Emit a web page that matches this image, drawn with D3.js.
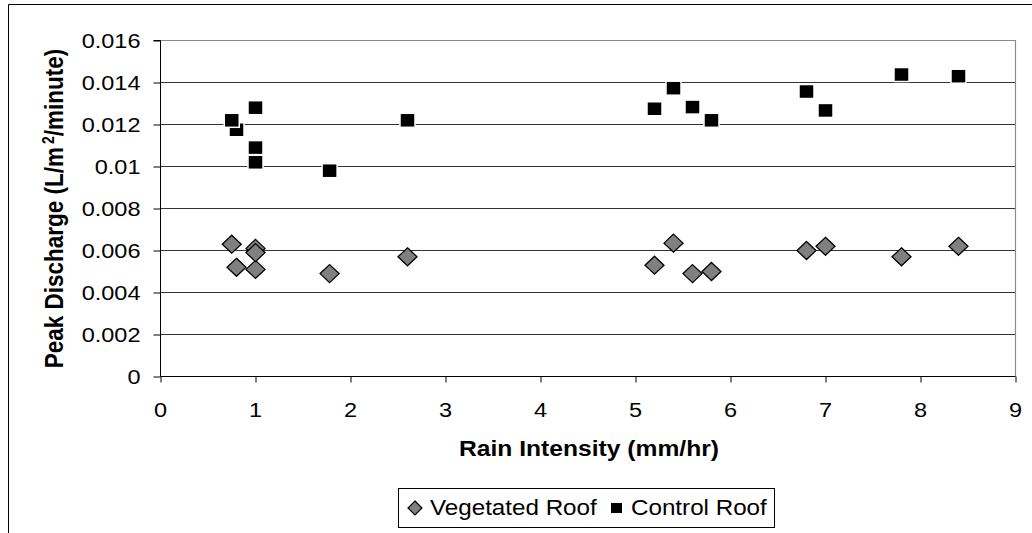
<!DOCTYPE html>
<html>
<head>
<meta charset="utf-8">
<script src="https://cdn.jsdelivr.net/npm/d3@7"></script>
<style>
  html, body { margin: 0; padding: 0; background: #fff; }
  svg { display: block; }
  text { font-family: "Liberation Sans", Arial, sans-serif; fill: #000; }
</style>
</head>
<body>
<svg id="chart" width="1032" height="533"></svg>
<script>
// Rain intensity (mm/hr) for each storm event
const rainIntensity = [0.8, 0.75, 1, 1, 1, 1.78, 2.6, 5.2, 5.4, 5.6, 5.8, 6.8, 7, 7.8, 8.4];
// Peak discharge (L/m²/minute) per roof
const vegetatedRoof = [0.0052, 0.0063, 0.0061, 0.0051, 0.0059, 0.0049, 0.0057, 0.0053, 0.00635, 0.0049, 0.005, 0.006, 0.0062, 0.0057, 0.0062];
const controlRoof   = [0.01175, 0.0122, 0.0128, 0.0109, 0.0102, 0.0098, 0.0122, 0.01275, 0.01373, 0.01283, 0.0122, 0.01357, 0.01267, 0.01438, 0.0143];

const xTickValues = [0, 1, 2, 3, 4, 5, 6, 7, 8, 9];
const xTickLabels = ["0", "1", "2", "3", "4", "5", "6", "7", "8", "9"];
const yTickValues = [0, 0.002, 0.004, 0.006, 0.008, 0.01, 0.012, 0.014, 0.016];
const yTickLabels = ["0", "0.002", "0.004", "0.006", "0.008", "0.01", "0.012", "0.014", "0.016"];

const seriesNames = ["Vegetated Roof", "Control Roof"];

const svg = d3.select("#chart");
const SX = 1.12; // horizontal text stretch

const x = d3.scaleLinear().domain([0, 9]).range([160.5, 1015.5]);
const y = d3.scaleLinear().domain([0, 0.016]).range([376.5, 40.5]);

// helper: text stretched horizontally around its anchor point
function label(g, px, py, str, opts) {
  const t = g.append("text")
    .attr("transform", `translate(${px},${py}) scale(${opts.sx || SX},1)`)
    .attr("text-anchor", opts.anchor || "start")
    .style("font-size", opts.size + "px")
    .style("font-weight", opts.bold ? "bold" : "normal")
    .text(str);
  return t;
}

// outer chart frame
svg.append("path")
  .attr("d", `M8.5,533 V4.5 H1032`)
  .attr("fill", "none").attr("stroke", "#000").attr("stroke-width", 1);

// horizontal gridlines
svg.append("g").selectAll("line")
  .data(yTickValues.filter(v => v > 0 && v < 0.016))
  .join("line")
  .attr("x1", x(0)).attr("x2", x(9))
  .attr("y1", d => y(d)).attr("y2", d => y(d))
  .attr("stroke", "#333").attr("stroke-width", 1);

// plot area border (top/right)
svg.append("path")
  .attr("d", `M${x(0)},${y(0.016)} H${x(9)} V${y(0)}`)
  .attr("fill", "none").attr("stroke", "#8a8a8a").attr("stroke-width", 1.2);

// y axis
const yAxis = d3.axisLeft(y).tickValues(yTickValues).tickSize(7).tickFormat("");
const gy = svg.append("g").attr("transform", `translate(${x(0)},0)`).call(yAxis);
gy.select(".domain").attr("stroke", "#000").attr("d", `M-7,${y(0.016)}H0V${y(0)}`);
gy.selectAll(".tick line").attr("stroke", "#000");

// x axis
const xAxis = d3.axisBottom(x).tickValues(xTickValues).tickSize(6).tickFormat("");
const gx = svg.append("g").attr("transform", `translate(0,${y(0)})`).call(xAxis);
gx.select(".domain").attr("stroke", "#000").attr("d", `M${x(0)},0H${x(9)}`);
gx.selectAll(".tick line").attr("stroke", "#000");

// tick labels
const tl = svg.append("g");
yTickValues.forEach((v, i) => label(tl, x(0) - 20, y(v) + 7.5, yTickLabels[i], {anchor: "end", size: 21}));
xTickValues.forEach((v, i) => label(tl, x(v), 417, xTickLabels[i], {anchor: "middle", size: 21}));

// axis titles
label(svg, (x(0) + x(9)) / 2 + 1, 456, "Rain Intensity (mm/hr)", {anchor: "middle", size: 22, bold: true});

const yt = svg.append("text")
  .attr("transform", `translate(63,${(y(0) + y(0.016)) / 2}) scale(${SX},1) rotate(-90)`)
  .attr("text-anchor", "middle")
  .style("font-size", "22.5px").style("font-weight", "bold");
yt.append("tspan").text("Peak Discharge (L/m");
yt.append("tspan").attr("dx", 3).attr("dy", -8).style("font-size", "14px").text("2");
yt.append("tspan").attr("dy", 8).text("/minute)");

// markers
function diamondPath(cx, cy, rx, ry) {
  return `M${cx},${cy - ry} L${cx + rx},${cy} L${cx},${cy + ry} L${cx - rx},${cy} Z`;
}

const pts = svg.append("g");
pts.selectAll("path.veg")
  .data(rainIntensity.map((r, i) => [r, vegetatedRoof[i]]))
  .join("path")
  .attr("class", "veg")
  .attr("d", d => diamondPath(x(d[0]), y(d[1]), 9.5, 9))
  .attr("fill", "#808080").attr("stroke", "#000").attr("stroke-width", 1.3);

pts.selectAll("rect.ctl")
  .data(rainIntensity.map((r, i) => [r, controlRoof[i]]))
  .join("rect")
  .attr("class", "ctl")
  .attr("x", d => x(d[0]) - 7.5).attr("y", d => y(d[1]) - 7)
  .attr("width", 15).attr("height", 14)
  .attr("fill", "#000").attr("stroke", "#fff").attr("stroke-width", 1.5);

// legend
const lg = svg.append("g");
lg.append("rect")
  .attr("x", 398.5).attr("y", 488.5).attr("width", 376).attr("height", 39)
  .attr("fill", "#fff").attr("stroke", "#000").attr("stroke-width", 1);
lg.append("path")
  .attr("d", diamondPath(415, 508, 7, 7))
  .attr("fill", "#808080").attr("stroke", "#000").attr("stroke-width", 1.2);
label(lg, 430, 515, seriesNames[0], {size: 22, sx: 1.1});
lg.append("rect")
  .attr("x", 611).attr("y", 503).attr("width", 11).attr("height", 10)
  .attr("fill", "#000");
label(lg, 631, 515, seriesNames[1], {size: 22, sx: 1.1});
</script>
</body>
</html>
